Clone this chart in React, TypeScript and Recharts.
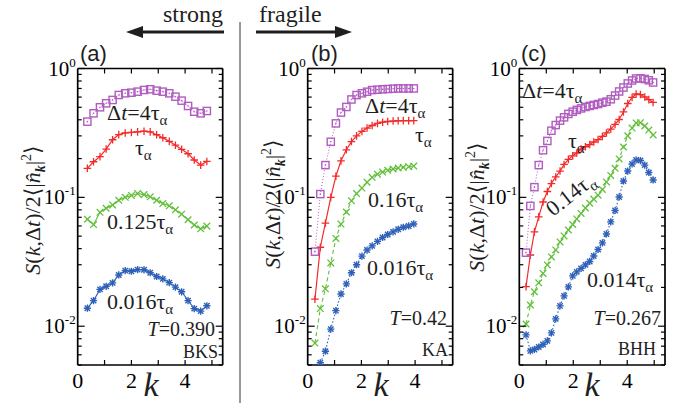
import React from 'react';
import { LineChart, Line, XAxis, YAxis } from 'recharts';

const SERIF = 'Liberation Serif, Times New Roman, DejaVu Serif, serif';
const SANS = 'Liberation Sans, Arial, DejaVu Sans, sans-serif';
const PURPLE = '#b05cc0';
const RED = '#f42a2a';
const GREEN = '#62bf3a';
const BLUE = '#2d5fb8';
const INK = '#1e1e1e';

const W = 682;
const H = 407;
const TOP = 68.5;
const BOTTOM = 365;

// axis ticks
const xTicks = [0, 1, 2, 3, 4, 5];
const xLabelTicks = [0, 2, 4];
const yTicks = [
  0.005, 0.006, 0.007, 0.008, 0.009,
  0.01, 0.02, 0.03, 0.04, 0.05, 0.06, 0.07, 0.08, 0.09,
  0.1, 0.2, 0.3, 0.4, 0.5, 0.6, 0.7, 0.8, 0.9, 1,
];

// panel (a) BKS
const kA = [0.36, 0.59, 0.83, 1.06, 1.30, 1.53, 1.77, 2.00, 2.23, 2.47, 2.70, 2.94, 3.17, 3.41, 3.64, 3.87, 4.11, 4.34, 4.58, 4.81];
const aSquare = [0.387, 0.449, 0.50, 0.537, 0.570, 0.623, 0.642, 0.649, 0.661, 0.681, 0.690, 0.673, 0.661, 0.642, 0.604, 0.563, 0.512, 0.462, 0.449, 0.468];
const aPlus = [0.168, 0.189, 0.207, 0.237, 0.28, 0.307, 0.316, 0.319, 0.322, 0.326, 0.322, 0.306, 0.29, 0.272, 0.254, 0.236, 0.218, 0.195, 0.178, 0.19];
const aCross = [0.0676, 0.0615, 0.0765, 0.0823, 0.0873, 0.095, 0.100, 0.1035, 0.107, 0.105, 0.101, 0.095, 0.0895, 0.086, 0.080, 0.074, 0.067, 0.061, 0.057, 0.0598];
const aStar = [0.0138, 0.0158, 0.0193, 0.0204, 0.0217, 0.025, 0.027, 0.0267, 0.0275, 0.0274, 0.026, 0.0243, 0.0233, 0.0218, 0.0201, 0.0185, 0.0158, 0.0137, 0.0131, 0.0144];

// panel (b) KA
const kB = [0.27, 0.47, 0.66, 0.86, 1.05, 1.24, 1.44, 1.63, 1.82, 2.02, 2.21, 2.40, 2.60, 2.79, 2.98, 3.18, 3.37, 3.56, 3.76, 3.95];
const bSquare = [0.0379, 0.106, 0.178, 0.27, 0.375, 0.455, 0.503, 0.575, 0.622, 0.642, 0.66, 0.68, 0.685, 0.69, 0.693, 0.697, 0.70, 0.70, 0.70, 0.70];
const bPlus = [0.0162, 0.041, 0.063, 0.10, 0.146, 0.192, 0.234, 0.271, 0.30, 0.325, 0.345, 0.361, 0.375, 0.383, 0.388, 0.391, 0.393, 0.394, 0.394, 0.394];
const bCross = [0.0074, 0.0137, 0.0195, 0.031, 0.048, 0.062, 0.077, 0.094, 0.107, 0.118, 0.131, 0.143, 0.151, 0.157, 0.162, 0.166, 0.169, 0.171, 0.173, 0.175];
const bStar = [null, 0.0052, 0.0064, 0.0095, 0.0132, 0.0178, 0.0213, 0.026, 0.030, 0.035, 0.039, 0.042, 0.0455, 0.0488, 0.0515, 0.054, 0.0565, 0.0586, 0.06, 0.0622];

// panel (c) BHH
const kC = [0.25, 0.41, 0.56, 0.72, 0.88, 1.04, 1.19, 1.35, 1.51, 1.66, 1.82, 1.98, 2.13, 2.29, 2.45, 2.61, 2.76, 2.92, 3.08, 3.23, 3.39, 3.55, 3.70, 3.86, 4.02, 4.18, 4.33, 4.49, 4.65, 4.80, 4.96];
const cSquare = [0.0372, 0.0858, 0.12, 0.178, 0.232, 0.274, 0.329, 0.364, 0.394, 0.418, 0.444, 0.462, 0.477, 0.49, 0.503, 0.512, 0.521, 0.53, 0.543, 0.553, 0.577, 0.617, 0.663, 0.712, 0.765, 0.807, 0.836, 0.839, 0.829, 0.81, 0.779];
const cPlus = [0.0203, 0.0357, 0.054, 0.0705, 0.092, 0.111, 0.128, 0.144, 0.160, 0.18, 0.197, 0.21, 0.221, 0.237, 0.247, 0.257, 0.269, 0.281, 0.297, 0.316, 0.339, 0.368, 0.402, 0.46, 0.535, 0.596, 0.634, 0.628, 0.601, 0.573, 0.545];
const cCross = [0.0104, 0.0146, 0.0185, 0.0217, 0.0257, 0.0299, 0.0345, 0.0391, 0.0451, 0.0502, 0.0558, 0.0616, 0.068, 0.075, 0.0827, 0.09, 0.097, 0.104, 0.115, 0.1317, 0.148, 0.168, 0.1986, 0.246, 0.30, 0.345, 0.378, 0.38, 0.358, 0.333, 0.305];
const cStar = [0.00856, 0.00643, 0.0066, 0.0069, 0.00722, 0.00769, 0.00887, 0.0114, 0.01437, 0.0172, 0.0202, 0.0246, 0.0264, 0.0281, 0.0299, 0.0318, 0.0351, 0.0394, 0.0443, 0.052, 0.0645, 0.0791, 0.1007, 0.134, 0.160, 0.1816, 0.195, 0.193, 0.178, 0.156, 0.1365];

type Row = { k: number; sq: number | null; pl: number | null; cr: number | null; st: number | null };
const toRows = (k: number[], sq: (number | null)[], pl: (number | null)[], cr: (number | null)[], st: (number | null)[]): Row[] =>
  k.map((kk, i) => ({ k: kk, sq: sq[i] ?? null, pl: pl[i] ?? null, cr: cr[i] ?? null, st: st[i] ?? null }));

const rowsA = toRows(kA, aSquare, aPlus, aCross, aStar);
const rowsB = toRows(kB, bSquare, bPlus, bCross, bStar);
const rowsC = toRows(kC, cSquare, cPlus, cCross, cStar);

const isDecade = (v: number) => Math.abs(Math.log10(v) - Math.round(Math.log10(v))) < 1e-6;

const BottomTick = (p: any) => {
  const { x, y, payload } = p;
  const v = payload.value;
  return (
    <g>
      {v > 0 && <line x1={x} x2={x} y1={y} y2={y - 5} stroke="#000" strokeWidth={1.2} />}
      {xLabelTicks.includes(v) && (
        <text x={x} y={y + 23} textAnchor="middle" fontSize={22} style={{ fontFamily: SERIF }} fill="#000">{v}</text>
      )}
    </g>
  );
};
const TopTick = (p: any) => {
  const { x, y, payload } = p;
  if (payload.value <= 0) return <g />;
  return <line x1={x} x2={x} y1={y} y2={y + 5} stroke="#000" strokeWidth={1.2} />;
};
const LeftTick = (p: any) => {
  const { x, y, payload } = p;
  const v = payload.value;
  const major = isDecade(v);
  const e = Math.round(Math.log10(v));
  return (
    <g>
      <line x1={x} x2={x + (major ? 7 : 4)} y1={y} y2={y} stroke="#000" strokeWidth={1.2} />
      {major && (
        <text x={x - 2} y={y + 7} textAnchor="end" fontSize={21} style={{ fontFamily: SERIF }} fill="#000">
          10<tspan dy={-9} fontSize={13}>{String(e)}</tspan>
        </text>
      )}
    </g>
  );
};
const RightTick = (p: any) => {
  const { x, y, payload } = p;
  const major = isDecade(payload.value);
  return <line x1={x} x2={x - (major ? 7 : 4)} y1={y} y2={y} stroke="#000" strokeWidth={1.2} />;
};

const ok = (p: any) => p && p.cx != null && p.cy != null && p.value != null && !isNaN(p.cy);

const squareDot = (p: any) =>
  ok(p) ? (
    <g key={`sq${p.index}`}>
      <rect x={p.cx - 3.6} y={p.cy - 3.6} width={7.2} height={7.2} fill="none" stroke={PURPLE} strokeWidth={1.4} />
      <circle cx={p.cx} cy={p.cy} r={0.8} fill={PURPLE} />
    </g>
  ) : <g key={`sq${p.index}`} />;
const plusDot = (p: any) =>
  ok(p) ? (
    <g key={`pl${p.index}`} stroke={RED} strokeWidth={1.3}>
      <line x1={p.cx - 3.8} x2={p.cx + 3.8} y1={p.cy} y2={p.cy} />
      <line x1={p.cx} x2={p.cx} y1={p.cy - 3.8} y2={p.cy + 3.8} />
    </g>
  ) : <g key={`pl${p.index}`} />;
const crossDot = (p: any) =>
  ok(p) ? (
    <g key={`cr${p.index}`} stroke={GREEN} strokeWidth={1.3}>
      <line x1={p.cx - 3.3} x2={p.cx + 3.3} y1={p.cy - 3.3} y2={p.cy + 3.3} />
      <line x1={p.cx - 3.3} x2={p.cx + 3.3} y1={p.cy + 3.3} y2={p.cy - 3.3} />
    </g>
  ) : <g key={`cr${p.index}`} />;
const starDot = (p: any) =>
  ok(p) ? (
    <g key={`st${p.index}`} stroke={BLUE} strokeWidth={1.4}>
      <line x1={p.cx - 3.6} x2={p.cx + 3.6} y1={p.cy} y2={p.cy} />
      <line x1={p.cx} x2={p.cx} y1={p.cy - 3.6} y2={p.cy + 3.6} />
      <line x1={p.cx - 2.7} x2={p.cx + 2.7} y1={p.cy - 2.7} y2={p.cy + 2.7} />
      <line x1={p.cx - 2.7} x2={p.cx + 2.7} y1={p.cy + 2.7} y2={p.cy - 2.7} />
    </g>
  ) : <g key={`st${p.index}`} />;

type PanelProps = { rows: Row[]; left: number; right: number; solidAll?: boolean };

// axes get 1px of room each (a zero-size axis is not drawn)
const Panel = ({ rows, left, right, solidAll }: PanelProps) => (
  <div style={{ position: 'absolute', left: 0, top: 0 }}>
    <LineChart width={W} height={H} data={rows}
      margin={{ top: TOP - 1, bottom: H - BOTTOM - 1, left: left - 1, right: W - right - 1 }}>
      <XAxis xAxisId="b" dataKey="k" type="number" domain={[0, 5.4]} allowDataOverflow ticks={xTicks} interval={0}
        height={1} tickSize={0} tickMargin={0} tickLine={false} axisLine={{ stroke: '#000', strokeWidth: 1.7 }}
        tick={(p: any) => <BottomTick {...p} />} />
      <XAxis xAxisId="t" orientation="top" dataKey="k" type="number" domain={[0, 5.4]} allowDataOverflow ticks={xTicks} interval={0}
        height={1} tickSize={0} tickMargin={0} tickLine={false} axisLine={{ stroke: '#000', strokeWidth: 1.7 }}
        tick={(p: any) => <TopTick {...p} />} />
      <YAxis yAxisId="l" type="number" scale="log" domain={[0.005, 1]} allowDataOverflow ticks={yTicks} interval={0}
        width={1} tickSize={0} tickMargin={0} tickLine={false} axisLine={{ stroke: '#000', strokeWidth: 1.7 }}
        tick={(p: any) => <LeftTick {...p} />} />
      <YAxis yAxisId="r" orientation="right" type="number" scale="log" domain={[0.005, 1]} allowDataOverflow ticks={yTicks} interval={0}
        width={1} tickSize={0} tickMargin={0} tickLine={false} axisLine={{ stroke: '#000', strokeWidth: 1.7 }}
        tick={(p: any) => <RightTick {...p} />} />
      <Line xAxisId="b" yAxisId="l" dataKey="st" stroke={BLUE} strokeWidth={1.1} strokeDasharray={solidAll ? undefined : '1.5 2'}
        dot={starDot} activeDot={false} isAnimationActive={false} connectNulls={false} />
      <Line xAxisId="b" yAxisId="l" dataKey="cr" stroke={GREEN} strokeWidth={1.1} strokeDasharray={solidAll ? undefined : '4 3'}
        dot={crossDot} activeDot={false} isAnimationActive={false} />
      <Line xAxisId="b" yAxisId="l" dataKey="pl" stroke={RED} strokeWidth={1.2}
        dot={plusDot} activeDot={false} isAnimationActive={false} />
      <Line xAxisId="b" yAxisId="l" dataKey="sq" stroke={PURPLE} strokeWidth={1} strokeDasharray="1 2"
        dot={squareDot} activeDot={false} isAnimationActive={false} />
    </LineChart>
  </div>
);

const TauText = ({ x, y, pre, anchor }: { x: number; y: number; pre: string; anchor?: string }) => (
  <text x={x} y={y} fontSize={22} style={{ fontFamily: SERIF }} fill={INK} textAnchor={anchor || 'start'}>
    {pre}τ<tspan dy={5} fontSize={15}>α</tspan>
  </text>
);
const DtText = ({ x, y }: { x: number; y: number }) => (
  <text x={x} y={y} fontSize={22} style={{ fontFamily: SERIF }} fill={INK}>
    Δ<tspan fontStyle="italic">t</tspan>=4τ<tspan dy={5} fontSize={15}>α</tspan>
  </text>
);
const TText = ({ x, y, val }: { x: number; y: number; val: string }) => (
  <text x={x} y={y} fontSize={20} style={{ fontFamily: SERIF }} fill={INK} textAnchor="end">
    <tspan fontStyle="italic">T</tspan>={val}
  </text>
);
const SysText = ({ x, y, name }: { x: number; y: number; name: string }) => (
  <text x={x} y={y} fontSize={18} style={{ fontFamily: SERIF }} fill={INK} textAnchor="end">{name}</text>
);
const YLabel = ({ x, y }: { x: number; y: number }) => (
  <text transform={`translate(${x},${y}) rotate(-90)`} textAnchor="middle" fontSize={22} style={{ fontFamily: SERIF }} fill={INK}>
    <tspan fontStyle="italic">S</tspan>(<tspan fontStyle="italic">k</tspan>,Δ<tspan fontStyle="italic">t</tspan>)/2⟨|<tspan fontStyle="italic">n̂</tspan>
    <tspan dy={5} fontSize={14} fontWeight="bold" fontStyle="italic">k</tspan>
    <tspan dy={-5}>|</tspan><tspan dy={-9} fontSize={14}>2</tspan><tspan dy={9}>⟩</tspan>
  </text>
);
const KLabel = ({ x }: { x: number }) => (
  <text x={x} y={396} textAnchor="middle" fontSize={34} fontStyle="italic" style={{ fontFamily: SERIF }} fill={INK}>k</text>
);
const PanelTag = ({ x, t }: { x: number; t: string }) => (
  <text x={x} y={61} fontSize={22} style={{ fontFamily: SANS }} fill={INK}>{t}</text>
);

const Overlay = () => (
  <svg width={W} height={H} style={{ position: 'absolute', left: 0, top: 0, pointerEvents: 'none' }}>
    {/* top annotation */}
    <text x={223} y={22} textAnchor="end" fontSize={24} style={{ fontFamily: SERIF }} fill={INK}>strong</text>
    <line x1={224} y1={32} x2={138} y2={32} stroke={INK} strokeWidth={3} />
    <polygon points="126,32 143,26 143,38" fill={INK} />
    <line x1={240} y1={22} x2={240} y2={403} stroke="#333" strokeWidth={1} />
    <text x={259} y={22} fontSize={24} style={{ fontFamily: SERIF }} fill={INK}>fragile</text>
    <line x1={256} y1={32} x2={340} y2={32} stroke={INK} strokeWidth={3} />
    <polygon points="352,32 335,26 335,38" fill={INK} />

    {/* panel (a) */}
    <PanelTag x={80} t="(a)" />
    <YLabel x={40} y={210} />
    <KLabel x={151} />
    <DtText x={107} y={120} />
    <TauText x={135} y={155} pre="" />
    <TauText x={107} y={229} pre="0.125" />
    <TauText x={107} y={309} pre="0.016" />
    <TText x={215} y={336} val="0.390" />
    <SysText x={218} y={358} name="BKS" />

    {/* panel (b) */}
    <PanelTag x={311} t="(b)" />
    <YLabel x={280} y={204} />
    <KLabel x={381} />
    <DtText x={365} y={113} />
    <TauText x={415} y={142} pre="" />
    <TauText x={368} y={207} pre="0.16" />
    <TauText x={367} y={275} pre="0.016" />
    <TText x={447} y={325} val="0.42" />
    <SysText x={448} y={356} name="KA" />

    {/* panel (c) */}
    <PanelTag x={521} t="(c)" />
    <YLabel x={484} y={207} />
    <KLabel x={592} />
    <DtText x={522} y={98} />
    <TauText x={568} y={148} pre="" />
    <g transform="rotate(-38, 553, 217)">
      <TauText x={553} y={217} pre="0.14" />
    </g>
    <TauText x={587} y={287} pre="0.014" />
    <TText x={661} y={325} val="0.267" />
    <SysText x={656} y={355} name="BHH" />
  </svg>
);

export default function App() {
  return (
    <div style={{ position: 'absolute', left: 0, top: 0, width: W, height: H, background: '#fff', overflow: 'hidden' }}>
      <Panel rows={rowsA} left={77.7} right={222.7} solidAll />
      <Panel rows={rowsB} left={307.7} right={452.7} />
      <Panel rows={rowsC} left={519.3} right={665} />
      <Overlay />
    </div>
  );
}
